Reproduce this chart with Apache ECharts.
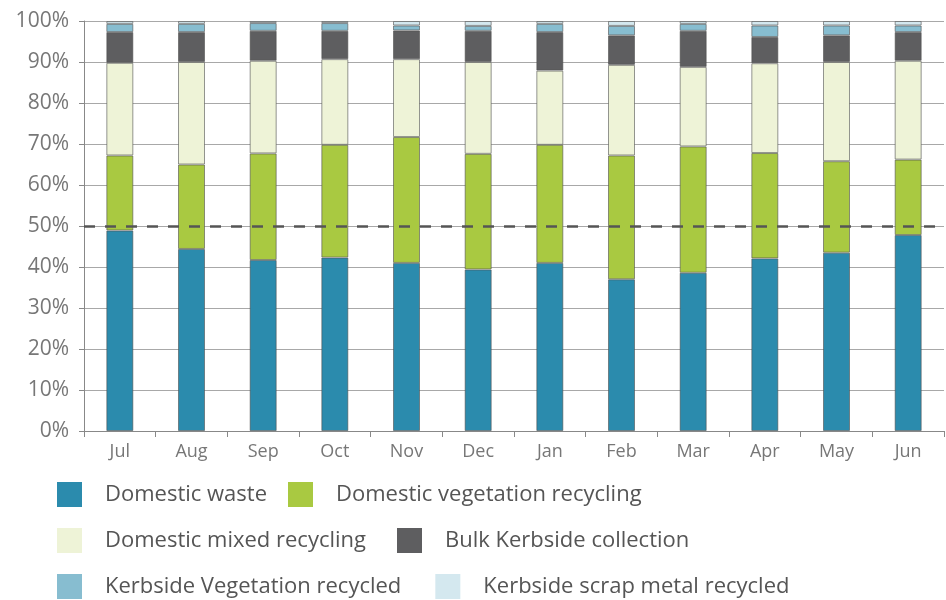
<!DOCTYPE html>
<html>
<head>
<meta charset="utf-8">
<script src="https://cdn.jsdelivr.net/npm/echarts@6/dist/echarts.min.js"></script>
<style>
html,body{margin:0;padding:0;background:#fff;}
#chart{width:946px;height:600px;}
</style>
</head>
<body>
<div id="chart"></div>
<script>
var months = ['Jul','Aug','Sep','Oct','Nov','Dec','Jan','Feb','Mar','Apr','May','Jun'];
var yTicks = [0,10,20,30,40,50,60,70,80,90,100];
var domesticWaste      = [48.9, 44.4, 41.7, 42.3, 41.0, 39.4, 41.0, 37.0, 38.6, 42.1, 43.5, 47.8];
var domesticVegetation = [18.3, 20.6, 26.0, 27.5, 30.7, 28.2, 28.8, 30.2, 30.8, 25.7, 22.3, 18.4];
var domesticMixed      = [22.6, 25.0, 22.6, 20.9, 19.0, 22.4, 18.1, 22.1, 19.4, 21.9, 24.2, 24.1];
var bulkKerbside       = [7.5, 7.3, 7.3, 6.9, 7.0, 7.6, 9.4, 7.2, 8.8, 6.4, 6.5, 7.0];
var kerbsideVegetation = [2.0, 2.0, 1.9, 1.9, 1.2, 1.2, 2.0, 2.3, 1.7, 2.8, 2.4, 1.6];
var kerbsideScrap      = [0.7, 0.7, 0.5, 0.5, 1.1, 1.2, 0.7, 1.2, 0.7, 1.1, 1.1, 1.1];
var thresholdLine = 50;

var names = ['Domestic waste','Domestic vegetation recycling','Domestic mixed recycling','Bulk Kerbside collection','Kerbside Vegetation recycled','Kerbside scrap metal recycled'];
var colors = ['#2B8BAD','#A9C941','#EEF3D7','#5E5E60','#87BDD0','#D4E8EF'];
var values = [domesticWaste, domesticVegetation, domesticMixed, bulkKerbside, kerbsideVegetation, kerbsideScrap];

var font = '"Open Sans", "Noto Sans", sans-serif';

var series = names.map(function(n, i){
  var s = {
    name: n,
    type: 'bar',
    stack: 'total',
    barWidth: 27,
    data: values[i],
    itemStyle: { color: colors[i], borderColor: 'rgba(80,80,80,0.6)', borderWidth: 1 },
    emphasis: { disabled: true }
  };
  if (i === 0) {
    s.markLine = {
      silent: true,
      symbol: 'none',
      z: 10,
      label: { show: false },
      lineStyle: { color: '#555', type: [11, 10], width: 2.5 },
      data: [{ yAxis: thresholdLine }]
    };
  }
  return s;
});

function legendRow(items, top, gap) {
  return {
    data: items,
    left: 52,
    top: top,
    orient: 'horizontal',
    itemWidth: 25,
    itemHeight: 25,
    itemGap: gap,
    icon: 'rect',
    selectedMode: false,
    itemStyle: { borderWidth: 0 },
    textStyle: { fontFamily: font, fontSize: 22, color: '#555', padding: [0, 0, 0, 18] }
  };
}

var chart = echarts.init(document.getElementById('chart'), null, { renderer: 'canvas' });
chart.setOption({
  animation: false,
  backgroundColor: '#fff',
  grid: { left: 84, right: 2, top: 21, bottom: 169, containLabel: false },
  legend: [
    legendRow([names[0], names[1]], 477, 21),
    legendRow([names[2], names[3]], 523, 31),
    legendRow([names[4], names[5]], 569, 34)
  ],
  xAxis: {
    type: 'category',
    data: months,
    boundaryGap: true,
    axisLine: { lineStyle: { color: '#888', width: 1 } },
    axisTick: { show: true, length: 6, lineStyle: { color: '#888' } },
    axisLabel: { fontFamily: font, fontSize: 18, color: '#777', margin: 12 }
  },
  yAxis: {
    type: 'value',
    min: yTicks[0],
    max: yTicks[yTicks.length - 1],
    interval: 10,
    axisLine: { show: true, lineStyle: { color: '#888', width: 1 } },
    axisTick: { show: true, length: 5, lineStyle: { color: '#888' } },
    splitLine: { show: true, lineStyle: { color: '#a8a8a8', width: 1 } },
    axisLabel: { fontFamily: font, fontSize: 21, color: '#777', margin: 15, formatter: '{value}%' }
  },
  series: series
});
</script>
</body>
</html>
